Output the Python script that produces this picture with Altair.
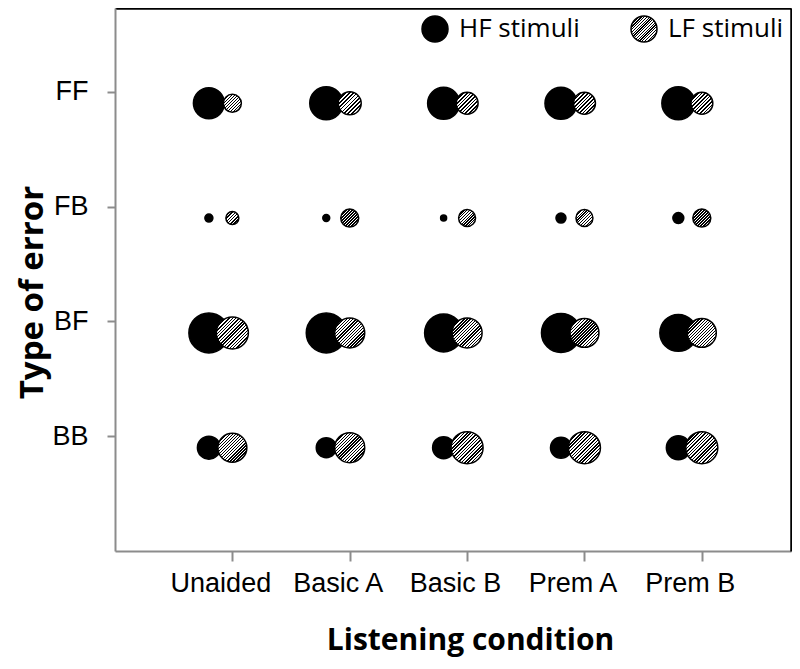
import altair as alt
import pandas as pd

# ---------------- data ----------------
conditions = ["Unaided", "Basic A", "Basic B", "Prem A", "Prem B"]
error_types = ["BB", "BF", "FB", "FF"]          # bottom -> top
series_names = ["HF stimuli", "LF stimuli"]

# bubble magnitudes (area-proportional), one value per listening condition
hf_ff = [24.0, 27.2, 25.6, 25.6, 27.2]
hf_fb = [1.6, 1.2, 0.9, 2.5, 3.0]
hf_bf = [40.0, 40.0, 36.1, 38.0, 34.2]
hf_bb = [13.2, 10.0, 12.1, 11.0, 14.4]

lf_ff = [8.1, 13.2, 12.1, 12.1, 12.1]
lf_fb = [4.2, 8.1, 7.2, 7.2, 8.1]
lf_bf = [25.6, 22.5, 22.5, 21.0, 21.0]
lf_bb = [21.0, 22.5, 25.6, 25.6, 25.6]

series_values = {
    "HF stimuli": {"BB": hf_bb, "BF": hf_bf, "FB": hf_fb, "FF": hf_ff},
    "LF stimuli": {"BB": lf_bb, "BF": lf_bf, "FB": lf_fb, "FF": lf_ff},
}

rows = []
for s_i, s in enumerate(series_names):
    for e_i, e in enumerate(error_types):
        for c_i, c in enumerate(conditions):
            rows.append({
                "series": s, "error": e, "condition": c,
                "cond_idx": c_i + 1, "err_idx": e_i + 1,
                "value": series_values[s][e][c_i], "ord": s_i,
            })
df = pd.DataFrame(rows)


# ---------------- styling helpers ----------------
def stripes(n, frac=0.45):
    stops = []
    for k in range(n):
        a = k / n
        b = (k + frac) / n
        c = (k + 1) / n
        stops += [(a, "black"), (b, "black"), (b, "white"), (c, "white")]
    s = ", ".join("{offset: %.4f, color: '%s'}" % (o, col) for o, col in stops)
    return "{gradient: 'linear', x1: 0, y1: 0, x2: 1, y2: 1, stops: [" + s + "]}"


GREY = "#8c8c8c"
LABEL_FONT = "Liberation Sans, Arial, sans-serif"
SANS = "Open Sans, Noto Sans, sans-serif"

x_label_expr = "[''," + ",".join("'%s'" % c for c in conditions) + "][datum.value]"
y_label_expr = "[''," + ",".join("'%s'" % e for e in error_types) + "][datum.value]"

W, H = 676, 543
x_scale = alt.Scale(domain=[0, 5.76], nice=False, zero=False)
y_scale = alt.Scale(domain=[0, 4.73], nice=False, zero=False)

base = alt.Chart(df).transform_calculate(
    x_pos="datum.cond_idx - (datum.series == 'HF stimuli' ? 0.2 : 0)",
    y_pos="datum.err_idx - 0.1",
    fillkey="datum.series == 'HF stimuli' ? 'HF stimuli' : (datum.value < 6 ? 'LF-s' : (datum.value < 17 ? 'LF-m' : 'LF stimuli'))",
)

points = base.mark_circle(stroke="black", strokeWidth=1.5, opacity=1).encode(
    x=alt.X("x_pos:Q", scale=x_scale, axis=alt.Axis(
        values=[1, 2, 3, 4, 5], labelExpr=x_label_expr, grid=False,
        domainColor=GREY, domainWidth=2, tickColor=GREY, tickWidth=2, tickSize=10,
        labelFont=LABEL_FONT, labelFontSize=27, labelColor="black", labelPadding=9,
        labelOffset=-12,
        title="Listening condition", titleFont=SANS, titleFontSize=30,
        titleFontWeight="bold", titleColor="black", titleX=355, titleY=98,
        titleBaseline="alphabetic", titleAlign="center",
    )),
    y=alt.Y("y_pos:Q", scale=y_scale, axis=alt.Axis(
        values=[1, 2, 3, 4], labelExpr=y_label_expr, grid=False,
        domainColor=GREY, domainWidth=2, tickColor=GREY, tickWidth=2, tickSize=8,
        labelFont=LABEL_FONT, labelFontSize=27, labelColor="black", labelPadding=19,
        title="Type of error", titleFont=SANS, titleFontSize=33,
        titleFontWeight="bold", titleColor="black", titleX=-83, titleY=284,
        titleAngle=270, titleBaseline="middle", titleAlign="center",
    )),
    size=alt.Size("value:Q", scale=alt.Scale(type="linear", domain=[0, 40], range=[0, 1600]), legend=None),
    fill=alt.Fill("fillkey:N", scale=alt.Scale(
        domain=["HF stimuli", "LF stimuli", "LF-m", "LF-s"],
        range=["black", {"expr": stripes(19)}, {"expr": stripes(12)}, {"expr": stripes(8)}],
    ), legend=alt.Legend(
        values=["HF stimuli", "LF stimuli"], title=None, orient="none",
        legendX=306, legendY=7, direction="horizontal", padding=0,
        symbolType="circle", symbolSize=676, symbolStrokeColor="black",
        symbolStrokeWidth=1.5, symbolOpacity=1,
        labelFont=SANS, labelFontSize=26, labelColor="black", labelOffset=10,
        columnPadding=48, labelLimit=300,
    )),
    order=alt.Order("ord:Q"),
)

frame = base.mark_point(opacity=0).encode(
    x=alt.X("x_pos:Q", scale=x_scale, axis=alt.Axis(
        orient="top", labels=False, ticks=False, grid=False, title=None,
        domainColor="black", domainWidth=2.5)),
    y=alt.Y("y_pos:Q", scale=y_scale, axis=alt.Axis(
        orient="right", labels=False, ticks=False, grid=False, title=None,
        domainColor="black", domainWidth=2.5)),
)

chart = alt.layer(points, frame).resolve_axis(
    x="independent", y="independent"
).properties(
    width=W, height=H,
    autosize=alt.AutoSizeParams(type="none"),
    padding={"left": 107, "top": 0, "right": 1, "bottom": 110},
).configure_view(stroke=None)

chart.save("out.html", embed_options={"renderer": "svg", "actions": False})
